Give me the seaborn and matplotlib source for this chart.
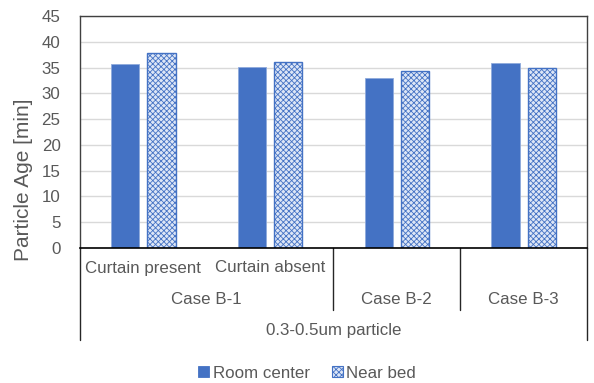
import matplotlib
matplotlib.use("Agg")
import matplotlib.pyplot as plt
import matplotlib.transforms as mtransforms
from matplotlib.patches import Patch
import pandas as pd
import seaborn as sns

# Chart data
slots = ["Curtain present", "Curtain absent", "B-2", "B-3"]
slot_labels = ["Curtain present", "Curtain absent", "", ""]
case_labels = ["Case B-1", "Case B-2", "Case B-3"]
case_centers = [0.5, 2.0, 3.0]
group_label = "0.3-0.5um particle"
series_names = ["Room center", "Near bed"]
room_center = [35.7, 35.2, 33.0, 35.9]
near_bed = [37.8, 36.1, 34.3, 35.0]

df = pd.DataFrame({
    "slot": slots * 2,
    "series": [series_names[0]] * len(slots) + [series_names[1]] * len(slots),
    "age": room_center + near_bed,
})

sns.set_theme(style="white")
plt.rcParams["font.family"] = ["Liberation Sans", "DejaVu Sans"]
plt.rcParams["hatch.linewidth"] = 0.6
plt.rcParams["hatch.color"] = "#4472C4"

TEXT = "#595959"
BLUE = "#4472C4"
PALE = "#dde6f6"
W, H = 594, 383
fig = plt.figure(figsize=(W / 100, H / 100), dpi=100)
ax = fig.add_axes([80 / W, 1 - 248 / H, 507 / W, 232 / H])

sns.barplot(data=df, x="slot", y="age", hue="series", order=slots,
            hue_order=series_names, palette=[BLUE, BLUE], width=0.57,
            gap=0.22, ax=ax, legend=False, errorbar=None, saturation=1)

n = len(slots)
for i, bar in enumerate(ax.patches[:2 * n]):
    if i < n:
        bar.set_facecolor(BLUE)
        bar.set_edgecolor("#8faadc")
        bar.set_linewidth(0.6)
    else:
        bar.set_facecolor(PALE)
        bar.set_edgecolor(BLUE)
        bar.set_hatch("xxxxxx")
        bar.set_linewidth(1.0)

ax.set_xlim(-0.5, 3.5)
ax.set_ylim(0, 45)
ax.set_yticks(range(0, 50, 5))
ax.yaxis.grid(True, color="#d9d9d9", linewidth=1.0)
ax.set_axisbelow(True)
ax.tick_params(axis="y", length=0, pad=14, labelsize=12.2, labelcolor=TEXT)
ax.set_xticks([])
ax.set_xlabel("")
ax.set_ylabel("Particle Age [min]", fontsize=15, color=TEXT)
ax.yaxis.set_label_coords(-0.093, 0.293)

for side in ["top", "left", "right"]:
    ax.spines[side].set_color("#404040")
    ax.spines[side].set_linewidth(1.0)
ax.spines["bottom"].set_color("#000000")
ax.spines["bottom"].set_linewidth(1.2)

# Multi-level category axis beneath the plot
blend = mtransforms.blended_transform_factory(ax.transData, fig.transFigure)

def fy(py):
    return 1 - py / H

for x, lab in zip(range(n), slot_labels):
    if lab:
        ax.text(x, fy(268), lab, transform=blend, ha="center", va="center",
                fontsize=12.2, color=TEXT)
for x, lab in zip(case_centers, case_labels):
    ax.text(x, fy(299), lab, transform=blend, ha="center", va="center",
            fontsize=12.2, color=TEXT)
ax.text(1.5, fy(330), group_label, transform=blend, ha="center", va="center",
        fontsize=12.2, color=TEXT)

for x in [1.5, 2.5]:
    ax.plot([x, x], [fy(248), fy(310)], transform=blend, color="#262626",
            linewidth=1.0, clip_on=False)
for x in [-0.5, 3.5]:
    ax.plot([x, x], [fy(248), fy(340)], transform=blend, color="#262626",
            linewidth=1.0, clip_on=False)

handles = [
    Patch(facecolor=BLUE, edgecolor=BLUE, linewidth=0.6),
    Patch(facecolor=PALE, edgecolor=BLUE, hatch="xxxxxx", linewidth=0.8),
]
fig.legend(handles, series_names, loc="center", bbox_to_anchor=(0.517, 1 - 373 / H),
           ncol=2, frameon=False, handlelength=0.65, handleheight=0.65,
           handletextpad=0.2, columnspacing=1.3, fontsize=12.2,
           labelcolor=TEXT)

fig.savefig("out.png", dpi=100)
